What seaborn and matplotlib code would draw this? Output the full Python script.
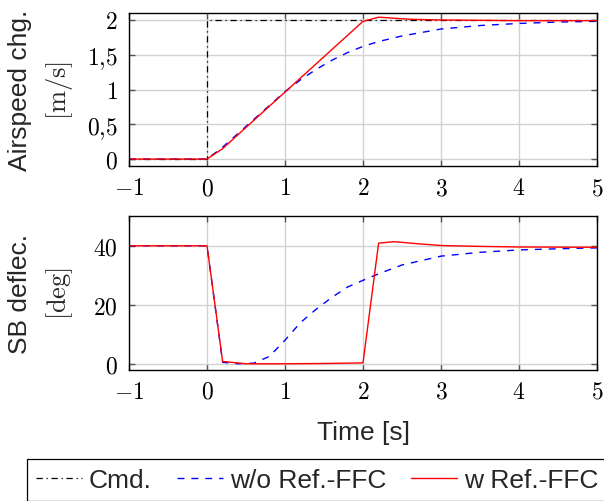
import numpy as np
import pandas as pd
import matplotlib
matplotlib.use("Agg")
import matplotlib.pyplot as plt
import seaborn as sns
from matplotlib.ticker import FuncFormatter

sns.set_theme(style="whitegrid")
plt.rcParams["font.family"] = ["Liberation Sans", "DejaVu Sans"]
plt.rcParams["mathtext.fontset"] = "cm"

# ---- data ----
t_cmd = [-1, 0, 0, 5]
cmd_speed = [0, 0, 2, 2]

t_wo = [-1, 0, 0.2, 0.4, 0.6, 0.8, 1.0, 1.2, 1.4, 1.6, 1.8, 2.0, 2.2, 2.5, 3.0, 3.5, 4.0, 4.5, 5.0]
wo_speed = [0, 0, 0.17, 0.37, 0.57, 0.77, 0.97, 1.14, 1.29, 1.42, 1.53, 1.62, 1.69, 1.77, 1.87, 1.92, 1.95, 1.97, 1.98]
wo_sb = [40, 40, 0.5, 0, 0.2, 2.5, 8, 14, 18.5, 22.5, 26, 28.3, 30.5, 33.5, 36.5, 37.8, 38.6, 39.0, 39.3]

t_w_speed = [-1, 0, 0.2, 2.0, 2.2, 2.6, 3.0, 4.0, 5.0]
w_speed = [0, 0, 0.15, 1.98, 2.04, 2.01, 2.0, 1.99, 1.99]

t_w_sb = [-1, 0, 0.2, 0.5, 1.0, 1.5, 2.0, 2.2, 2.4, 2.7, 3.0, 3.5, 4.0, 5.0]
w_sb = [40, 40, 0.8, 0, 0, 0.1, 0.3, 40.9, 41.4, 40.7, 40.1, 39.8, 39.6, 39.5]

xticks = [-1, 0, 1, 2, 3, 4, 5]
speed_ticks = [0, 0.5, 1, 1.5, 2]
sb_ticks = [0, 20, 40]

fig = plt.figure(figsize=(6.04, 5.02), dpi=100)
ax1 = fig.add_axes([0.2136, 0.6673, 0.7748, 0.3048])
ax2 = fig.add_axes([0.2136, 0.2616, 0.7748, 0.3055])

def tex_num(v, pos):
    s = f"{v:g}".replace(".", "{,}")
    return f"${s}$"

lw = 1.0
sns.lineplot(x=t_cmd, y=cmd_speed, ax=ax1, color="black", lw=0.9,
             linestyle=(0, (5, 3, 1, 3)), estimator=None, sort=False, label="Cmd.")
sns.lineplot(x=t_wo, y=wo_speed, ax=ax1, color="blue", lw=lw,
             linestyle=(0, (5, 5)), estimator=None, sort=False, label="w/o Ref.-FFC")
sns.lineplot(x=t_w_speed, y=w_speed, ax=ax1, color="red", lw=lw,
             estimator=None, sort=False, label="w Ref.-FFC")

sns.lineplot(x=t_wo, y=wo_sb, ax=ax2, color="blue", lw=lw,
             linestyle=(0, (5, 5)), estimator=None, sort=False)
sns.lineplot(x=t_w_sb, y=w_sb, ax=ax2, color="red", lw=lw,
             estimator=None, sort=False)

handles, labels = ax1.get_legend_handles_labels()
ax1.get_legend().remove()

ax1.set_ylim(-0.1, 2.1)
ax1.set_yticks(speed_ticks)
ax2.set_ylim(-2, 50)
ax2.set_yticks(sb_ticks)

for ax in (ax1, ax2):
    ax.set_xlim(-1, 5)
    ax.set_xticks(xticks)
    ax.xaxis.set_major_formatter(FuncFormatter(tex_num))
    ax.yaxis.set_major_formatter(FuncFormatter(tex_num))
    ax.grid(True, color="#d2d2d2", lw=1.0)
    ax.tick_params(direction="in", length=4, width=1.0, color="#555555",
                   labelsize=17, pad=8, top=True, right=True,
                   bottom=True, left=True, labelcolor="black")
    for sp in ax.spines.values():
        sp.set_color("black")
        sp.set_linewidth(1.0)
    ax.set_facecolor("white")

ax1.set_ylabel("Airspeed chg.\n$[\\mathrm{m/s}]$", fontsize=19, linespacing=1.55)
ax2.set_ylabel("SB deflec.\n$[\\mathrm{deg}]$", fontsize=19, linespacing=1.55)
ax1.yaxis.set_label_coords(-0.115, 0.5)
ax2.yaxis.set_label_coords(-0.115, 0.5)
ax1.set_xlabel("")
ax2.set_xlabel("Time [s]", fontsize=19)
ax2.xaxis.set_label_coords(0.5, -0.325)

leg = fig.legend(handles, labels, loc="upper left",
                 bbox_to_anchor=(27 / 604, 1 - 460 / 502), ncol=3,
                 fontsize=19, frameon=True, fancybox=False, framealpha=1,
                 edgecolor="black", handlelength=1.75, handletextpad=0.25,
                 columnspacing=0.95, borderpad=0.35, borderaxespad=0)
leg.get_frame().set_linewidth(0.9)

fig.savefig("out.png", dpi=100)
